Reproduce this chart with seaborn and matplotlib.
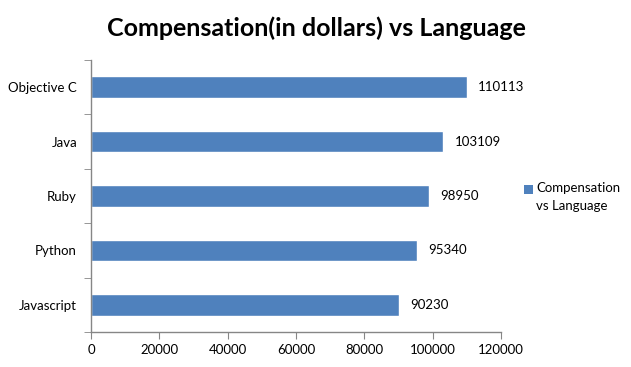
import matplotlib
matplotlib.use("Agg")
import matplotlib.pyplot as plt
import seaborn as sns
import pandas as pd
from matplotlib.patches import Rectangle

languages = ["Objective C", "Java", "Ruby", "Python", "Javascript"]
compensation = [110113, 103109, 98950, 95340, 90230]
xticks = [0, 20000, 40000, 60000, 80000, 100000, 120000]
series_name = "Compensation\nvs Language"

sns.set_style("white")
plt.rcParams['font.family'] = ['Lato', 'DejaVu Sans']
plt.rcParams['text.color'] = 'black'

df = pd.DataFrame({"Language": languages, "Compensation": compensation})

fig = plt.figure(figsize=(6.31, 3.67), dpi=100)
ax = fig.add_axes([91/631, 1-332/367, 410/631, 272/367])
bar_color = "#4F81BD"
sns.barplot(data=df, y="Language", x="Compensation", order=languages,
            color=bar_color, width=0.4, orient="h", ax=ax, saturation=1)

ax.set_xlim(0, 120000)
ax.set_ylim(4.5, -0.5)
ax.set_xticks(xticks)
ax.set_xticklabels([str(t) for t in xticks])
ax.set_xlabel("")
ax.set_ylabel("")
for s in ["top", "right"]:
    ax.spines[s].set_visible(False)
for s in ["left", "bottom"]:
    ax.spines[s].set_color("#868686")
    ax.spines[s].set_linewidth(1)

ax.tick_params(axis="y", which="major", length=0, pad=10, labelsize=9.5, labelcolor="black")
ax.set_yticks([i + 0.5 for i in range(-1, 5)], minor=True)
ax.tick_params(axis="y", which="minor", length=5, color="#868686", direction="out", left=True)
ax.tick_params(axis="x", which="major", length=5, color="#868686", direction="out",
               bottom=True, pad=4, labelsize=9.5, labelcolor="black")

for i, v in enumerate(compensation):
    ax.annotate(str(v), xy=(v, i), xytext=(8, 0), textcoords="offset points",
                va="center", ha="left", fontsize=9.5, color="black")

fig.suptitle("Compensation(in dollars) vs Language", x=316/631, y=1-28/367, va="center",
             fontsize=18, fontweight="bold", color="black")

# legend (Excel style: marker aligned with first line)
fig.patches.append(Rectangle((524/631, 1-194/367), 9/631, 9/367,
                             transform=fig.transFigure, facecolor=bar_color,
                             edgecolor="none", figure=fig))
fig.text(536/631, 1-182/367, series_name, ha="left", va="top", fontsize=9.5,
         linespacing=1.55, color="black")

fig.savefig("out.png", dpi=100)
